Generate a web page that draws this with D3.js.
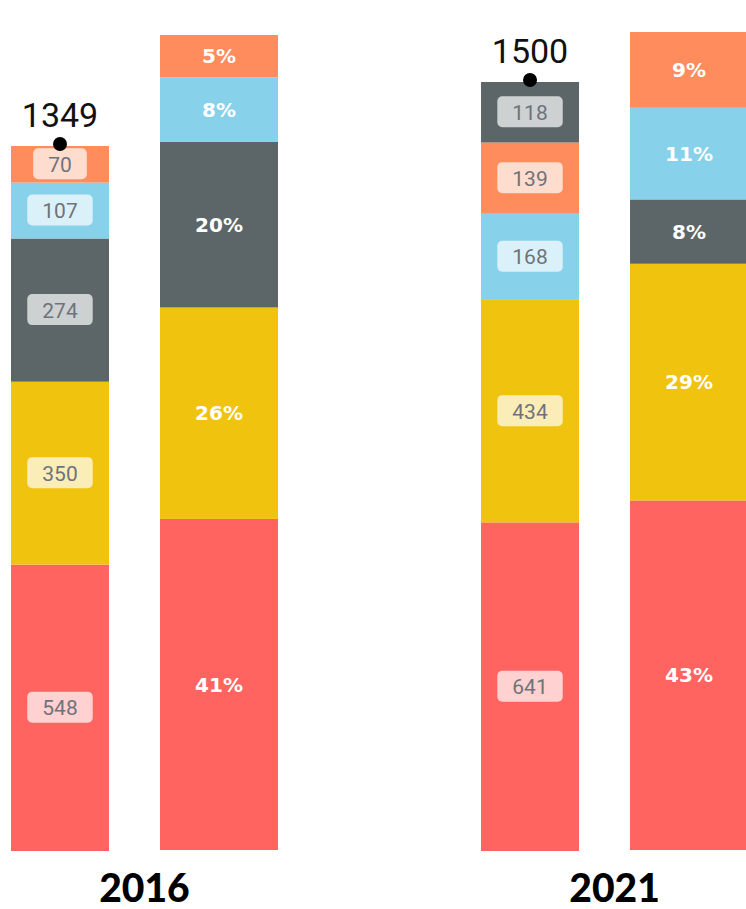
<!DOCTYPE html>
<html>
<head>
<meta charset="utf-8">
<script src="https://cdn.jsdelivr.net/npm/d3@7"></script>
<style>
  body { margin: 0; background: #fff; }
  svg { display: block; }
</style>
</head>
<body>
<div id="chart"></div>
<script>
// categories, bottom to top in the 2016 bars
const categories = ["c1", "c2", "c3", "c4", "c5"];
const colors = ["#ff6461", "#f0c30f", "#5c6668", "#87d1ea", "#ff8c5c"];
const years = ["2016", "2021"];

// absolute values per year (same order as categories)
const values2016 = [548, 350, 274, 107, 70];
const values2021 = [641, 434, 118, 168, 139];

// percent labels
const pctLabels2016 = ["41%", "26%", "20%", "8%", "5%"];
const pctLabels2021 = ["43%", "29%", "8%", "11%", "9%"];

// stacking order (bottom to top) of each bar, as indexes into categories
const absOrder2016 = [0, 1, 2, 3, 4];
const absOrder2021 = [0, 1, 3, 4, 2];
const pctOrder2016 = [0, 1, 2, 3, 4];
const pctOrder2021 = [0, 1, 2, 3, 4];

const w = 746, h = 909;

const panels = [
  {year: "2016", values: values2016, pct: pctLabels2016, absOrder: absOrder2016, pctOrder: pctOrder2016, absTop: 146, pctTop: 35},
  {year: "2021", values: values2021, pct: pctLabels2021, absOrder: absOrder2021, pctOrder: pctOrder2021, absTop: 82, pctTop: 32}
];

const svg = d3.select("#chart").append("svg")
  .attr("width", w)
  .attr("height", h);

// group positions
const x0 = d3.scaleBand()
  .domain(years)
  .range([11, 748])
  .paddingInner(0.432);

const absW = 98, pctOff = 149, pctW = 118;

panels.forEach(function(p) {
  const total = d3.sum(p.values);
  const gx = x0(p.year);

  // one scale for the absolute bar, one for the share bar
  const yAbs = d3.scaleLinear().domain([0, total]).range([851, p.absTop]);
  const yPct = d3.scaleLinear().domain([0, 1]).range([850, p.pctTop]);

  // stacked segments for absolute bar
  let acc = 0;
  const absSegs = p.absOrder.map(function(i) {
    const s = {i: i, y0: acc, y1: acc + p.values[i]};
    acc += p.values[i];
    return s;
  });
  acc = 0;
  const pctSegs = p.pctOrder.map(function(i) {
    const f = p.values[i] / total;
    const s = {i: i, y0: acc, y1: acc + f};
    acc += f;
    return s;
  });

  const g = svg.append("g");

  // absolute bar
  g.selectAll("rect.abs")
    .data(absSegs)
    .enter()
    .append("rect")
    .attr("class", "abs")
    .attr("x", gx)
    .attr("width", absW)
    .attr("y", d => yAbs(d.y1))
    .attr("height", d => yAbs(d.y0) - yAbs(d.y1))
    .style("fill", d => colors[d.i]);

  // share bar
  g.selectAll("rect.pct")
    .data(pctSegs)
    .enter()
    .append("rect")
    .attr("class", "pct")
    .attr("x", gx + pctOff)
    .attr("width", pctW)
    .attr("y", d => yPct(d.y1))
    .attr("height", d => yPct(d.y0) - yPct(d.y1))
    .style("fill", d => colors[d.i]);

  // value labels with boxes
  const lab = g.selectAll("g.vlab")
    .data(absSegs)
    .enter()
    .append("g")
    .attr("class", "vlab")
    .attr("transform", d => "translate(" + (gx + absW / 2) + "," + (yAbs(d.y0) + yAbs(d.y1)) / 2 + ")");

  lab.append("rect")
    .attr("rx", 5)
    .style("fill", "#fff")
    .style("fill-opacity", 0.7);

  lab.append("text")
    .attr("text-anchor", "middle")
    .attr("dy", "0.36em")
    .style("font-family", "Roboto, 'DejaVu Sans', sans-serif")
    .style("font-size", "21px")
    .style("fill", "#6e737b")
    .text(d => p.values[d.i]);

  lab.each(function() {
    const t = d3.select(this).select("text").node();
    const tw = t.getComputedTextLength();
    d3.select(this).select("rect")
      .attr("x", -tw / 2 - 15)
      .attr("y", -16)
      .attr("width", tw + 30)
      .attr("height", 31);
  });

  // percent labels
  g.selectAll("text.pl")
    .data(pctSegs)
    .enter()
    .append("text")
    .attr("class", "pl")
    .attr("x", gx + pctOff + pctW / 2)
    .attr("y", d => (yPct(d.y0) + yPct(d.y1)) / 2)
    .attr("dy", "0.36em")
    .attr("text-anchor", "middle")
    .style("font-family", "'DejaVu Sans', sans-serif")
    .style("font-weight", "bold")
    .style("font-size", "20px")
    .style("fill", "#fff")
    .text(d => p.pct[d.i]);

  // total marker and label
  g.append("circle")
    .attr("cx", gx + absW / 2)
    .attr("cy", yAbs(total) - 2)
    .attr("r", 7)
    .style("fill", "#000");

  g.append("text")
    .attr("x", gx + absW / 2)
    .attr("y", yAbs(total) - 19)
    .attr("text-anchor", "middle")
    .style("font-family", "'Liberation Sans Narrow', Roboto, sans-serif")
    .style("font-size", "34px")
    .style("fill", "#111")
    .text(total);

  // year
  g.append("text")
    .attr("x", gx + (pctOff + pctW) / 2)
    .attr("y", 902)
    .attr("text-anchor", "middle")
    .style("font-family", "Lato, sans-serif")
    .style("font-weight", "900")
    .style("font-size", "39px")
    .style("fill", "#000")
    .text(p.year);
});
</script>
</body>
</html>
